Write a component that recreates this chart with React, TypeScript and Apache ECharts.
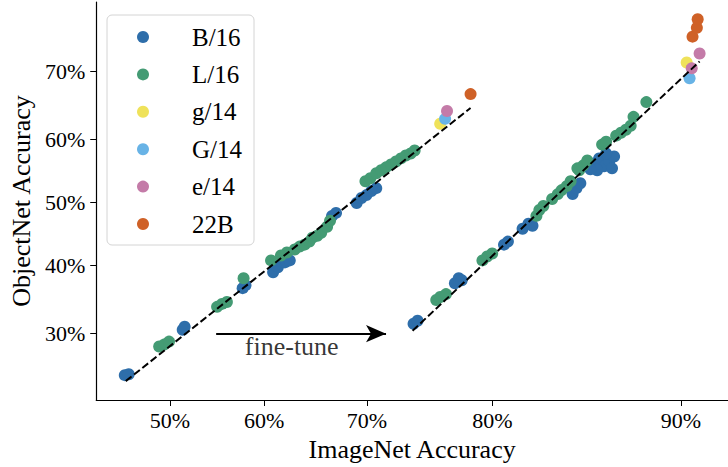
import React, { useEffect, useRef } from "react";
import * as echarts from "echarts";

// values in percent: [ImageNet accuracy, ObjectNet accuracy]
const seriesNames = ["B/16", "L/16", "g/14", "G/14", "e/14", "22B"];
const seriesColors = ["#2e6eaa", "#449b74", "#efe25a", "#68b3e6", "#c47ba8", "#cf6127"];

const b16: number[][] = [
  [45.16, 24.69], [45.58, 24.8], [51.37, 30.54], [51.58, 30.95], [57.75, 36.51], [58.05, 36.96],
  [60.91, 38.92], [61.4, 39.68], [62.11, 40.45], [62.6, 40.76], [61.11, 39.99], [66.75, 47.84],
  [67.13, 48.32], [69.06, 49.92], [69.5, 50.72], [69.95, 51.2], [70.39, 51.84], [70.83, 52.32],
  [74.03, 31.36], [74.36, 31.79], [77.3, 37.26], [77.59, 38.01], [77.81, 37.71], [80.79, 43.24],
  [81.05, 43.72], [82.0, 45.77], [82.37, 46.57], [82.62, 46.25], [84.96, 51.36], [85.17, 52.32],
  [85.38, 53.11], [86.11, 56.28], [86.36, 57.07], [86.61, 55.81], [86.86, 56.59], [87.1, 57.38],
  [86.26, 55.18], [86.71, 57.85], [87.0, 55.49], [85.91, 55.33],
];
const l16: number[][] = [
  [48.84, 28.29], [49.37, 28.54], [49.9, 28.94], [55.05, 33.76], [55.57, 34.19], [56.09, 34.46],
  [57.85, 38.01], [60.7, 40.76], [61.71, 41.53], [62.31, 42.0], [63.1, 42.46], [63.59, 42.93],
  [64.08, 43.24], [64.56, 43.72], [64.85, 44.35], [65.33, 44.66], [65.71, 45.14], [66.28, 46.09],
  [66.56, 47.05], [69.86, 53.43], [70.3, 53.91], [70.83, 54.7], [71.26, 55.18], [71.69, 55.65],
  [72.12, 56.12], [72.55, 56.59], [72.97, 57.07], [73.38, 57.53], [73.79, 57.85], [74.12, 58.31],
  [75.86, 34.76], [76.17, 35.2], [76.62, 35.63], [79.31, 40.76], [79.64, 41.37], [79.99, 41.84],
  [82.86, 47.84], [83.04, 48.8], [83.28, 49.44], [83.8, 50.56], [84.13, 51.36], [84.35, 52.0],
  [84.63, 52.64], [84.85, 53.43], [85.32, 55.18], [85.54, 55.97], [85.75, 56.75], [85.22, 55.49],
  [86.51, 59.24], [86.71, 59.7], [87.2, 60.63], [87.43, 61.08], [87.66, 61.54], [87.88, 62.14],
  [88.01, 63.49], [88.58, 65.67],
];
const g14: number[][] = [[76.17, 62.44], [90.22, 71.19]];
const bigG14: number[][] = [[76.55, 63.19], [90.33, 69.05]];
const e14: number[][] = [[76.7, 64.37], [90.41, 70.4], [90.7, 72.36]];
const vit22b: number[][] = [[78.46, 66.82], [90.44, 74.48], [90.6, 75.56], [90.63, 76.57]];

const fitPretrained: number[][] = [[45.26, 23.98], [78.46, 64.81]];
const fitFinetuned: number[][] = [[73.95, 30.41], [90.7, 71.32]];

const arrowFrom = [54.95, 30.0];
const arrowTo = [71.69, 30.0];
const arrowText = "fine-tune";
const arrowTextPos = [62.8, 28.3];

const xTicks = [50, 60, 70, 80, 90];
const yTicks = [30, 40, 50, 60, 70];
const xRange = [42.14, 91.68];
const yRange = [21.83, 78.5];

const logit = (p: number) => Math.log(p / (100 - p));
const sigmoidPct = (v: number) => 100 / (1 + Math.exp(-v));
const tr = (d: number[][]) => d.map(([x, y]) => [logit(x), logit(y)]);

const FONT = "'Liberation Serif', 'DejaVu Serif', serif";

export default function App() {
  const ref = useRef<HTMLDivElement>(null);
  useEffect(() => {
    if (!ref.current) return;
    const chart = echarts.init(ref.current, null, { renderer: "svg" });
    const groups = [b16, l16, g14, bigG14, e14, vit22b];
    const scatter = groups.map((g, i) => ({
      name: seriesNames[i],
      type: "scatter",
      data: tr(g),
      symbol: "circle",
      symbolSize: 12,
      itemStyle: { color: seriesColors[i], opacity: 1 },
      z: 2,
    }));
    const axisCommon = {
      type: "value",
      axisLine: { show: true, onZero: false, lineStyle: { color: "#000", width: 1.2 } },
      axisTick: { show: true, inside: false, length: 6, lineStyle: { color: "#000", width: 1 } },
      splitLine: { show: false },
      nameTextStyle: { fontFamily: FONT, fontSize: 26, color: "#000" },
    };
    const option: any = {
      animation: false,
      backgroundColor: "#fff",
      grid: { left: 93, right: -8, top: 2, bottom: 63, containLabel: false },
      xAxis: {
        ...axisCommon,
        min: logit(xRange[0]),
        max: logit(xRange[1]),
        name: "ImageNet Accuracy",
        nameLocation: "middle",
        nameGap: 36,
        axisTick: { ...axisCommon.axisTick, customValues: xTicks.map(logit) },
        axisLabel: {
          customValues: xTicks.map(logit),
          formatter: (v: number) => Math.round(sigmoidPct(v)) + "%",
          fontFamily: FONT,
          fontSize: 22,
          color: "#000",
          margin: 9,
        },
      },
      yAxis: {
        ...axisCommon,
        min: logit(yRange[0]),
        max: logit(yRange[1]),
        name: "ObjectNet Accuracy",
        nameLocation: "middle",
        nameGap: 58,
        axisTick: { ...axisCommon.axisTick, customValues: yTicks.map(logit) },
        axisLabel: {
          customValues: yTicks.map(logit),
          formatter: (v: number) => Math.round(sigmoidPct(v)) + "%",
          fontFamily: FONT,
          fontSize: 22,
          color: "#000",
          margin: 11,
        },
      },
      legend: {
        data: seriesNames,
        orient: "vertical",
        left: 107,
        top: 15,
        padding: [9, 12, 8, 30],
        itemGap: 11.4,
        itemWidth: 12,
        itemHeight: 12,
        icon: "circle",
        backgroundColor: "rgba(255,255,255,0.8)",
        borderColor: "#d4d4d4",
        borderWidth: 1,
        borderRadius: 5,
        textStyle: {
          fontFamily: FONT,
          fontSize: 25,
          color: "#000",
          lineHeight: 26,
          padding: [0, 0, 0, 38],
        },
      },
      series: [
        ...scatter,
        {
          type: "line",
          data: tr(fitPretrained),
          symbol: "none",
          lineStyle: { color: "#000", width: 2, type: [7.4, 3.2] },
          z: 3,
          silent: true,
        },
        {
          type: "line",
          data: tr(fitFinetuned),
          symbol: "none",
          lineStyle: { color: "#000", width: 2, type: [7.4, 3.2] },
          z: 3,
          silent: true,
        },
        {
          type: "scatter",
          data: [[logit(arrowTextPos[0]), logit(arrowTextPos[1])]],
          symbolSize: 0,
          silent: true,
          label: {
            show: true,
            position: "inside",
            formatter: arrowText,
            fontFamily: FONT,
            fontSize: 26,
            color: "#000",
          },
          markLine: {
            silent: true,
            symbol: ["none", "arrow"],
            symbolSize: [13, 20],
            label: { show: false },
            lineStyle: { color: "#000", width: 2, type: "solid" },
            data: [
              [
                { coord: [logit(arrowFrom[0]), logit(arrowFrom[1])] },
                { coord: [logit(arrowTo[0]), logit(arrowTo[1])] },
              ],
            ],
          },
          z: 3,
        },
      ],
    };
    chart.setOption(option);
    return () => chart.dispose();
  }, []);
  return (
    <div
      ref={ref}
      style={{ position: "fixed", left: 0, top: 0, width: 728, height: 467, background: "#fff" }}
    />
  );
}
